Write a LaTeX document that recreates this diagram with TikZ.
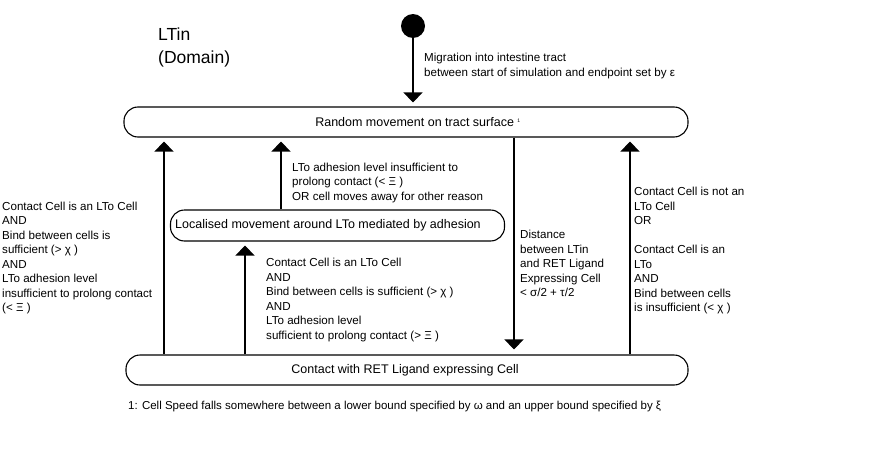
\documentclass[tikz,border=0pt]{standalone}
\usepackage{fontspec}
\setmainfont{Liberation Sans}
\usetikzlibrary{arrows.meta}
\begin{document}
\begin{tikzpicture}[x=1pt,y=-1pt]

    \tikzset{
      state/.style={
        draw,
        line width=1.1pt,
        rounded corners=14pt,
        inner sep=0pt,
        minimum height=30pt,
      },
      statetext/.style={
        inner sep=0pt,
        font=\fontsize{12.5}{15}\selectfont,
      },
      flow/.style={
        line width=1.2pt,
        -{Triangle[width=19pt,length=10pt]},
      },
      cond/.style={
        anchor=north west,
        inner sep=0pt,
        align=left,
        font=\fontsize{11.6}{14.5}\selectfont,
      },
    }
    \useasboundingbox (0,0) rectangle (876,450);

	% states
	\node[circle,fill=black,minimum size=24pt,inner sep=0pt] (start) at (413,26) {};
	\node[state,minimum width=564pt] (random) at (406,122) {};
	\node[state,minimum width=334pt,minimum height=31pt] (local) at (337.5,225.5) {};
	\node[state,minimum width=562pt] (contact) at (407,370) {};
	\node[statetext] (randomtxt) at ([xshift=12pt]random.center) {Random movement on tract surface \textsuperscript{\tiny 1}};
	\node[statetext] (localtxt) at ([xshift=-9.5pt]local.center) {Localised movement around LTo mediated by adhesion};
	\node[statetext] (contacttxt) at ([xshift=-2pt]contact.center) {Contact with RET Ligand expressing Cell};

	\node[anchor=north west,inner sep=0pt,align=left,font=\fontsize{17.5}{23}\selectfont] (domain) at (158,28) {LTin\\(Domain)};

	% arrow columns
	\coordinate (ca) at (164,0);
	\coordinate (cb) at (245,0);
	\coordinate (cc) at (281,0);
	\coordinate (cd) at (514,0);
	\coordinate (ce) at (630,0);

	\draw[flow,shorten >=4pt] (start) -- (random.north -| start);
	\draw[flow,shorten >=4pt] (contact.north -| ca) -- (random.south -| ca);
	\draw[flow,shorten >=4pt] (contact.north -| cb) -- (local.south -| cb);
	\draw[flow,shorten >=4pt] (local.north -| cc) -- (random.south -| cc);
	\draw[flow,shorten >=5pt] (random.south -| cd) -- (contact.north -| cd);
	\draw[flow,shorten >=4pt] (contact.north -| ce) -- (random.south -| ce);

	% conditions
	\node[cond] (migr) at (424,53) {Migration into intestine tract\\between start of simulation and endpoint set by ε};
	\node[cond] (toloc) at (2,201.5) {Contact Cell is an LTo Cell\\AND\\Bind between cells is\\sufficient (> χ )\\AND\\LTo adhesion level\\insufficient to prolong contact\\(< Ξ )};
	\node[cond] (leave) at (292,162.5) {LTo adhesion level insufficient to\\prolong contact (< Ξ )\\OR cell moves away for other reason};
	\node[cond] (stay) at (266,258) {Contact Cell is an LTo Cell\\AND\\Bind between cells is sufficient (> χ )\\AND\\LTo adhesion level\\sufficient to prolong contact (> Ξ )};
	\node[cond] (dist) at (520,230) {Distance\\between LTin\\and RET Ligand\\Expressing Cell\\< σ/2 + τ/2};
	\node[cond] (notlto) at (634,187) {Contact Cell is not an\\LTo Cell\\OR\\[14.5pt]Contact Cell is an\\LTo\\AND\\Bind between cells\\is insufficient (< χ )};

	\node[anchor=north west,inner sep=0pt,font=\fontsize{11.5}{13}\selectfont] (note) at (128,400.5) {1: Cell Speed falls somewhere between a lower bound specified by ω and an upper bound specified by ξ};

\end{tikzpicture}
\end{document}
